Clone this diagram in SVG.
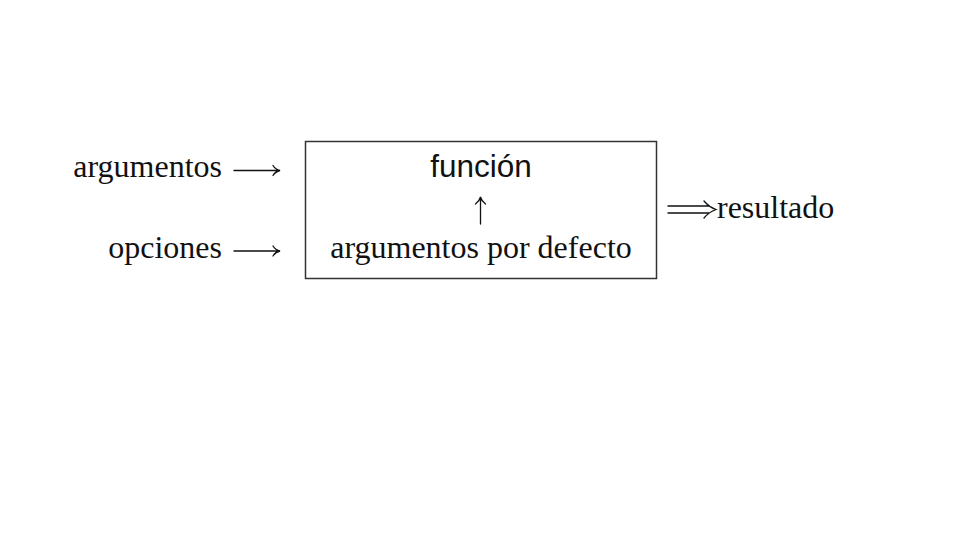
<svg xmlns="http://www.w3.org/2000/svg" width="960" height="540" viewBox="0 0 960 540">
<style>
.serif{font-family:"Liberation Serif","Times New Roman",serif;font-size:32px;fill:#111}
.sans{font-family:"Liberation Sans",Arial,sans-serif;font-size:31.5px;fill:#111}
.arr{fill:none;stroke:#111;stroke-width:1.3;stroke-linecap:round}
</style>
<rect width="960" height="540" fill="#fff"/>
<g id="input-argumentos"><text class="serif" x="222" y="177" text-anchor="end">argumentos</text></g>
<g id="input-opciones"><text class="serif" x="222" y="258" text-anchor="end">opciones</text></g>
<g id="funcion-box">
<rect x="305.5" y="141.5" width="351" height="137" fill="none" stroke="#333" stroke-width="1.5"/>
<text class="sans" x="481" y="177" text-anchor="middle">función</text>
<text class="serif" x="481" y="258" text-anchor="middle">argumentos por defecto</text>
</g>
<g id="output-resultado"><text class="serif" x="717" y="217.5">resultado</text></g>
<g id="connectors">
<path class="arr" d="M234,170.5 H279 M273,165.5 Q275.5,169.5 280,170.5 Q275.5,171.5 273,175.5"/>
<path class="arr" d="M234,251 H279 M273,246 Q275.5,250 280,251 Q275.5,252 273,256"/>
<path class="arr" d="M480.5,224 V198 M475.5,204 Q479.5,201 480.5,197 Q481.5,201 485.5,204"/>
<path class="arr" d="M668,206 H709 M668,213 H709 M704,201 Q709,207 716,209.5 Q709,212 704,218"/>
</g>
</svg>
